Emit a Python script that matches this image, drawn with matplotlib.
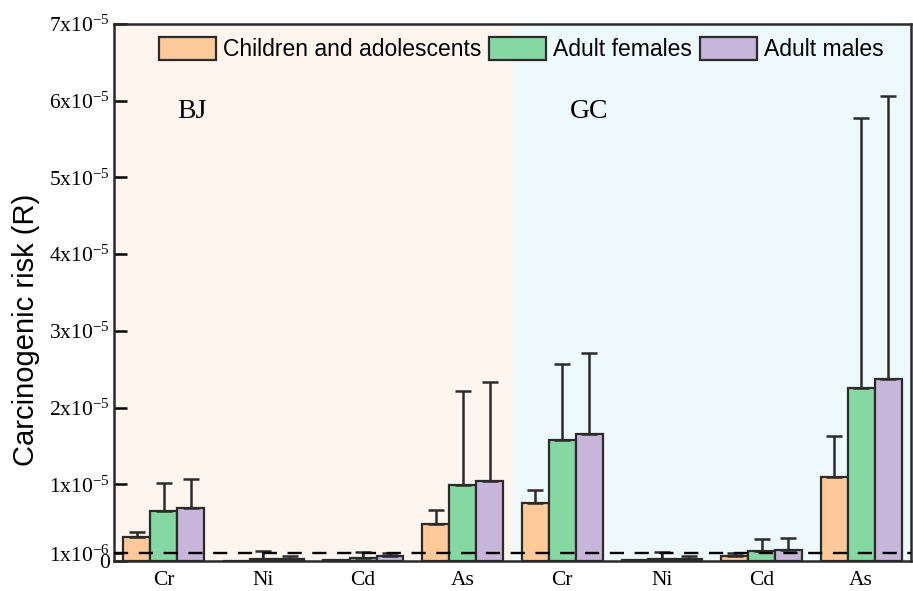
import numpy as np
import matplotlib
matplotlib.use("Agg")
import matplotlib.pyplot as plt
from matplotlib.patches import Patch

plt.rcParams["font.family"] = ["Liberation Serif", "DejaVu Serif"]
plt.rcParams["mathtext.fontset"] = "custom"
plt.rcParams["mathtext.rm"] = "Liberation Serif"
plt.rcParams["mathtext.it"] = "Liberation Serif:italic"

# --- data: carcinogenic risk by element and site ---
elements = ["Cr", "Ni", "Cd", "As", "Cr", "Ni", "Cd", "As"]
sites = ["BJ", "GC"]
groups = ["Children and adolescents", "Adult females", "Adult males"]

children = [3.1e-6, 0.3e-7, 1.5e-7, 4.8e-6, 7.6e-6, 1.0e-7, 6.5e-7, 1.10e-5]
females  = [6.5e-6, 2.0e-7, 4.0e-7, 9.9e-6, 1.58e-5, 3.0e-7, 1.26e-6, 2.25e-5]
males    = [6.9e-6, 2.0e-7, 6.5e-7, 1.04e-5, 1.66e-5, 3.0e-7, 1.40e-6, 2.37e-5]

children_err = [0.7e-6, 0.0, 0.0, 1.9e-6, 1.6e-6, 0.0, 0.35e-6, 5.3e-6]
females_err  = [3.6e-6, 1.1e-6, 0.8e-6, 1.23e-5, 0.99e-5, 0.9e-6, 1.61e-6, 3.52e-5]
males_err    = [3.8e-6, 0.45e-6, 0.35e-6, 1.29e-5, 1.05e-5, 0.4e-6, 1.64e-6, 3.69e-5]

threshold = 1e-6

colors = ["#FFC99A", "#86D8A2", "#C8B5DA"]
edge = "#2b2b2b"

fig = plt.figure(figsize=(9.13, 5.91), dpi=100)
ax = fig.add_axes([0.1249, 0.0508, 0.8729, 0.9086])

x = np.arange(len(elements))
w = 0.27

# shaded site panels
ax.axvspan(-0.5, 3.5, color="#FDF5EE", zorder=0)
ax.axvspan(3.5, 7.5, color="#EEF9FC", zorder=0)

series = [(children, children_err), (females, females_err), (males, males_err)]
for i, (vals, errs) in enumerate(series):
    vals = np.array(vals)
    errs = np.array(errs)
    ax.bar(x + (i - 1) * w, vals, width=w, color=colors[i], edgecolor=edge,
           linewidth=1.6, zorder=2,
           yerr=[np.zeros_like(errs), errs],
           error_kw=dict(ecolor=edge, elinewidth=1.8, capsize=6, capthick=1.8, zorder=3))

ax.axhline(threshold, color="black", linestyle=(0, (6, 4.5)), linewidth=1.7, zorder=4)

ax.text(0.28, 5.86e-5, sites[0], fontsize=20, ha="center", va="center")
ax.text(4.27, 5.86e-5, sites[1], fontsize=20, ha="center", va="center")

ax.set_xlim(-0.5, 7.5)
ax.set_ylim(0, 7e-5)
ax.set_xticks(x)
ax.set_xticklabels(elements, fontsize=15.5)

yticks = [0, 1e-6, 1e-5, 2e-5, 3e-5, 4e-5, 5e-5, 6e-5, 7e-5]
ylabels = ["0", r"$\mathrm{1x10^{-6}}$"] + [r"$\mathrm{%dx10^{-5}}$" % k for k in range(1, 8)]
ax.set_yticks(yticks)
ax.set_yticklabels(ylabels, fontsize=15.5)
ax.tick_params(axis="y", direction="in", length=9, width=1.8, pad=3)
ax.tick_params(axis="x", direction="in", length=6, width=1.5, pad=7)
for s in ax.spines.values():
    s.set_linewidth(1.8)
    s.set_color("#2b2b2b")

ax.set_ylabel("Carcinogenic risk (R)", fontsize=21, family=["Liberation Sans", "DejaVu Sans"])
ax.yaxis.set_label_coords(-0.093, 0.43)

handles = [Patch(facecolor=c, edgecolor=edge, linewidth=1.6) for c in colors]
ax.legend(handles, groups, loc="upper left", bbox_to_anchor=(0.04, 1.0), ncol=3,
          frameon=False, handlelength=2.5, handleheight=1.2, handletextpad=0.3,
          columnspacing=0.35, borderaxespad=0.15,
          prop={"family": ["Liberation Sans", "DejaVu Sans"], "size": 16.5})

fig.savefig("out.png", dpi=100)
